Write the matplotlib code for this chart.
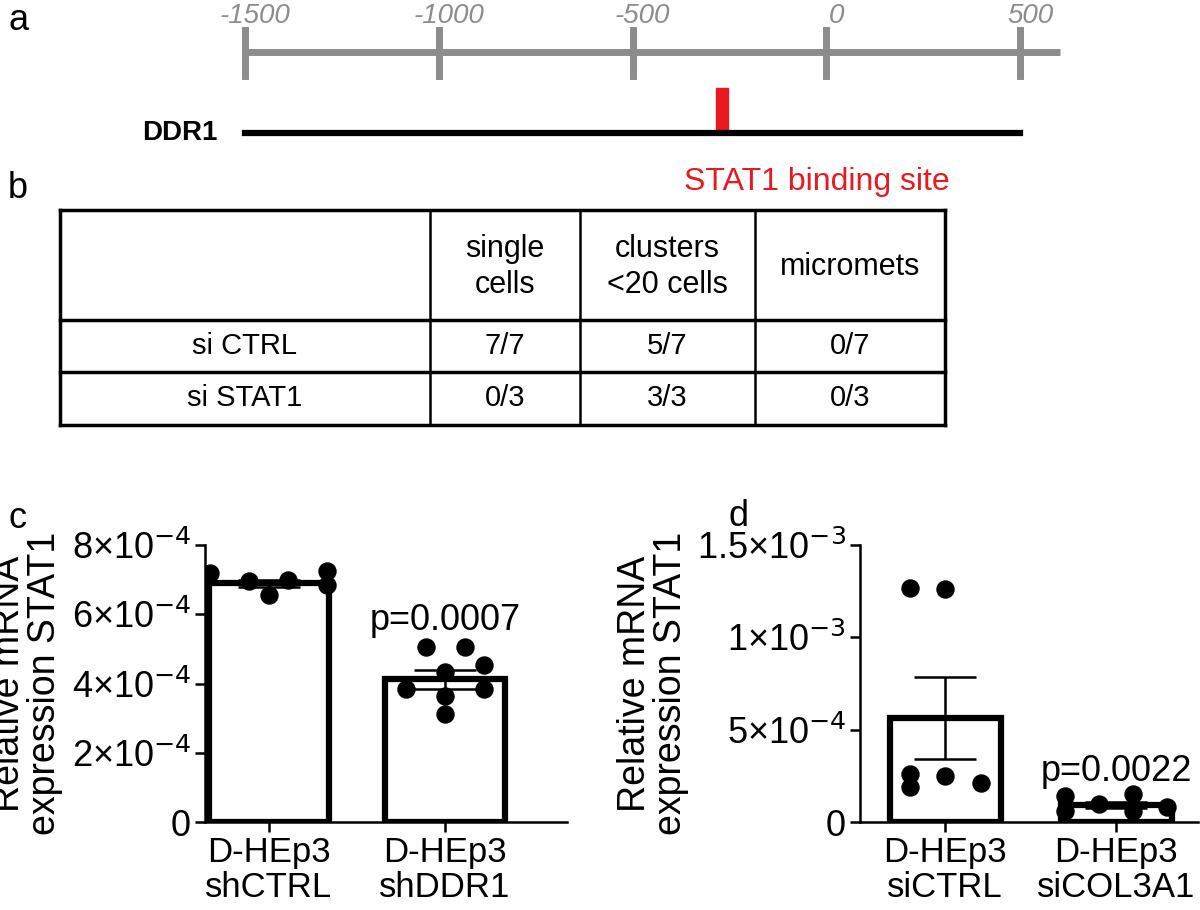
import numpy as np
import matplotlib
matplotlib.use('Agg')
import matplotlib.pyplot as plt
from matplotlib.patches import Rectangle

plt.rcParams['font.family'] = ['Liberation Sans', 'DejaVu Sans']

# panel a
promoter_ticks = [-1500, -1000, -500, 0, 500]
stat1_site = -270

# panel b
table_cols = ['', 'single\ncells', 'clusters\n<20 cells', 'micromets']
table_rows = [['si CTRL', '7/7', '5/7', '0/7'],
              ['si STAT1', '0/3', '3/3', '0/3']]

# panel c
c_groups = ['D-HEp3\nshCTRL', 'D-HEp3\nshDDR1']
c_means = [6.89e-4, 4.12e-4]
c_sem = [0.10e-4, 0.27e-4]
c_pts = [[7.18e-4, 6.95e-4, 7.0e-4, 7.24e-4, 6.85e-4, 6.55e-4],
         [5.05e-4, 5.05e-4, 4.52e-4, 4.32e-4, 3.83e-4, 3.65e-4, 3.83e-4, 3.11e-4]]
c_pts_dx = [[-0.33, -0.11, 0.11, 0.33, 0.33, 0.0],
            [-0.11, 0.11, 0.22, 0.0, -0.22, 0.0, 0.22, 0.0]]

# panel d
d_groups = ['D-HEp3\nsiCTRL', 'D-HEp3\nsiCOL3A1']
d_means = [5.63e-4, 0.92e-4]
d_sem = [2.2e-4, 0.15e-4]
d_pts = [[12.65e-4, 12.6e-4, 2.58e-4, 1.88e-4, 2.5e-4, 2.13e-4],
         [1.41e-4, 1.54e-4, 0.62e-4, 0.95e-4, 0.62e-4, 0.82e-4]]
d_pts_dx = [[-0.21, 0.0, -0.21, -0.21, 0.0, 0.21],
            [-0.3, 0.1, -0.3, -0.1, 0.1, 0.3]]

fig = plt.figure(figsize=(12, 9.1), dpi=100)

# pixel-coordinate overlay for panels a and b
ov = fig.add_axes([0, 0, 1, 1])
ov.set_xlim(0, 1200)
ov.set_ylim(910, 0)
ov.axis('off')

for lab, x, y in [('a', 8, 20), ('b', 8, 188), ('c', 8, 518), ('d', 728, 516)]:
    ov.text(x, y, lab, fontsize=26, va='center', ha='left')

gray = '#8c8c8c'
def px(v):
    return 245 + (v + 1500) * (1020 - 245) / 2000

ov.plot([px(-1500), 1060], [52, 52], color=gray, lw=5, solid_capstyle='butt')
for t in promoter_ticks:
    ov.plot([px(t), px(t)], [30, 76], color=gray, lw=5)
    ov.text(px(t) + 10, 16, str(t), color=gray, fontsize=20,
            style='italic', ha='center', va='center')
ov.plot([px(-1500), px(500)], [133, 133], color='black', lw=4.5)
ov.add_patch(Rectangle((px(stat1_site) - 6, 88), 12, 45, color='#e8191f'))
ov.text(218, 133, 'DDR1', fontsize=20, fontweight='bold', ha='right', va='center')
ov.text(px(stat1_site) + 95, 182, 'STAT1 binding site', color='#e8191f', fontsize=23,
        ha='center', va='center')

# table
col_x = [60, 430, 580, 755, 945]
row_y = [210, 320, 372, 425]
for x in col_x:
    ov.plot([x, x], [row_y[0], row_y[-1]], color='black', lw=2.5 if x in (60, 945) else 1.8)
for y in row_y:
    ov.plot([col_x[0], col_x[-1]], [y, y], color='black', lw=2.5)
for j, txt in enumerate(table_cols):
    ov.text((col_x[j] + col_x[j + 1]) / 2, (row_y[0] + row_y[1]) / 2 + 2, txt,
            fontsize=22, ha='center', va='center', linespacing=1.25)
for i, row in enumerate(table_rows):
    yc = (row_y[i + 1] + row_y[i + 2]) / 2
    ov.text(245, yc, row[0], fontsize=21, ha='center', va='center')
    for j in range(1, 4):
        ov.text((col_x[j] + col_x[j + 1]) / 2, yc, row[j], fontsize=21, ha='center', va='center')


def bar_panel(ax, groups, means, sem, pts, dxs, ymax, ticks, ticklabels, ptext, pty, xlim, bw):
    x = np.arange(len(groups))
    ax.bar(x, means, width=bw, facecolor='white', edgecolor='black', linewidth=4.5, zorder=2)
    for i in range(len(groups)):
        ax.scatter(x[i] + np.array(dxs[i]), pts[i], s=150, color='black', zorder=3)
    ax.errorbar(x, means, yerr=sem, fmt='none', ecolor='black', elinewidth=1.8,
                capsize=22, capthick=1.8, zorder=4)
    ax.set_xlim(*xlim)
    ax.set_ylim(0, ymax)
    ax.set_yticks(ticks)
    ax.set_yticklabels(ticklabels, fontsize=26)
    ax.set_xticks(x)
    ax.set_xticklabels(groups, fontsize=25, linespacing=1.1)
    ax.spines['top'].set_visible(False)
    ax.spines['right'].set_visible(False)
    for s in ('left', 'bottom'):
        ax.spines[s].set_linewidth(1.8)
    ax.tick_params(width=1.8, length=7, pad=3)
    ax.set_ylabel('Relative mRNA\nexpression STAT1', fontsize=27, linespacing=1.0, labelpad=6)
    ax.text(1, pty, ptext, fontsize=26, ha='center', va='bottom')


axc = fig.add_axes([205 / 1200, 88 / 910, 362 / 1200, 277 / 910])
bar_panel(axc, c_groups, c_means, c_sem, c_pts, c_pts_dx, 8e-4,
          [0, 2e-4, 4e-4, 6e-4, 8e-4],
          ['0', r'2×10$^{-4}$', r'4×10$^{-4}$', r'6×10$^{-4}$', r'8×10$^{-4}$'],
          'p=0.0007', 5.3e-4, (-0.36, 1.69), 0.68)

axd = fig.add_axes([860 / 1200, 88 / 910, 338 / 1200, 277 / 910])
bar_panel(axd, d_groups, d_means, d_sem, d_pts, d_pts_dx, 1.5e-3,
          [0, 5e-4, 1e-3, 1.5e-3],
          ['0', r'5×10$^{-4}$', r'1×10$^{-3}$', r'1.5×10$^{-3}$'],
          'p=0.0022', 1.8e-4, (-0.5, 1.48), 0.65)

fig.savefig('out.png', dpi=100)
